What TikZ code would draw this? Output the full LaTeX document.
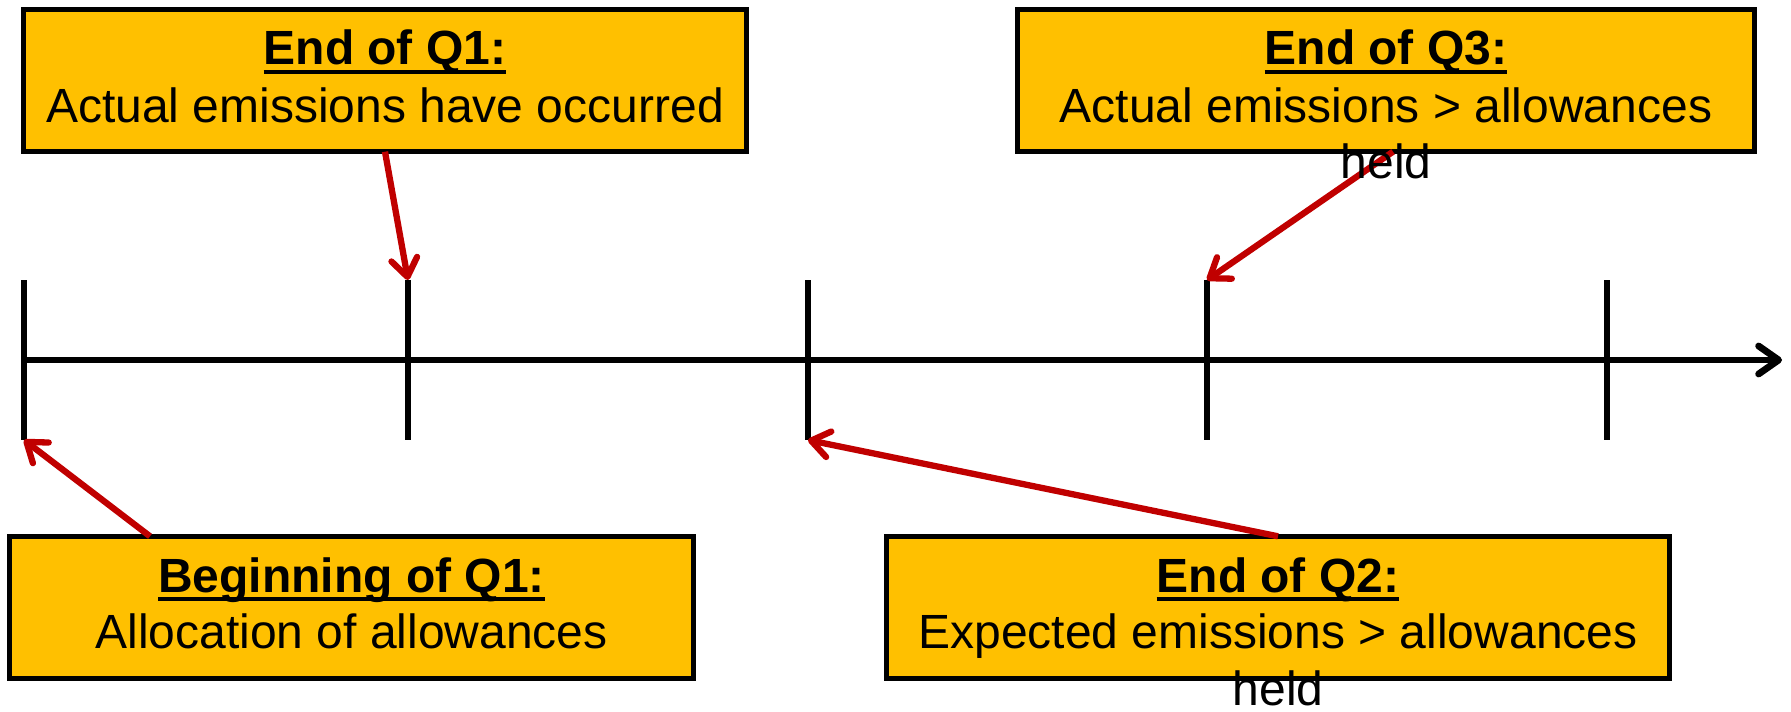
\documentclass[tikz,border=0pt]{standalone}
\usepackage{fontspec}
\setmainfont{Liberation Sans}
\usetikzlibrary{arrows.meta}
\definecolor{boxgold}{RGB}{255,192,0}
\definecolor{arrowred}{RGB}{192,0,0}
\newcommand{\myul}[1]{\setbox0\hbox{#1}\rlap{\rule[-9pt]{\wd0}{4pt}}\box0}
\begin{document}
\begin{tikzpicture}[x=1pt,y=-1pt,
  notebox/.style={draw=black, line width=4.6pt, fill=boxgold, inner sep=0pt, outer sep=0pt},
  ttl/.style={anchor=base, inner sep=0pt, font=\fontsize{48}{57}\selectfont\bfseries},
  body/.style={anchor=base, inner sep=0pt, font=\fontsize{48}{57}\selectfont},
  tickline/.style={draw=black, line width=6pt},
  axisline/.style={draw=black, line width=6.8pt, -{Straight Barb[length=20pt,width=28pt,round]}},
  callout/.style={draw=arrowred, line width=6.3pt, -{Straight Barb[length=18pt,width=26pt,round]}}
]
\useasboundingbox (0,0) rectangle (1791,712);

% boxes
\node[notebox, minimum width=723.4pt, minimum height=142.4pt] (q1) at (385,80.5) {};
\node[notebox, minimum width=737.4pt, minimum height=142.4pt] (q3) at (1386,80.5) {};
\node[notebox, minimum width=684.4pt, minimum height=142.4pt] (b1) at (351.5,607.5) {};
\node[notebox, minimum width=783.4pt, minimum height=142.4pt] (q2) at (1278,607.5) {};

% timeline coordinates
\coordinate (t1top) at (24,280);  \coordinate (t1bot) at (24,440);
\coordinate (t2top) at (408,280); \coordinate (t2bot) at (408,440);
\coordinate (t3top) at (808,280); \coordinate (t3bot) at (808,440);
\coordinate (t4top) at (1207,280); \coordinate (t4bot) at (1207,440);
\coordinate (t5top) at (1607,280); \coordinate (t5bot) at (1607,440);
\coordinate (axstart) at (24,360);
\coordinate (axend) at (1782,360);

\draw[axisline] (axstart) -- (axend);
\draw[tickline] (t1top) -- (t1bot);
\draw[tickline] (t2top) -- (t2bot);
\draw[tickline] (t3top) -- (t3bot);
\draw[tickline] (t4top) -- (t4bot);
\draw[tickline] (t5top) -- (t5bot);

% callout arrows
\draw[callout] (q1.south) -- (t2top);
\draw[callout] ([xshift=7pt]q3.south) -- (t4top);
\draw[callout] ([xshift=-201.5pt]b1.north) -- (t1bot);
\draw[callout] (q2.north) -- (t3bot);

% texts
\node[ttl] (q1t) at (385,64.5) {\myul{End of Q1:}};
\node[body] (q1b) at (385,122) {Actual emissions have occurred};

\node[ttl] (q3t) at (1386,64.5) {\myul{End of Q3:}};
\node[body] (q3b) at (1386,122) {Actual emissions > allowances};
\node[body] (q3c) at (1386,178) {held};

\node[ttl] (b1t) at (351.5,592) {\myul{Beginning of Q1:}};
\node[body] (b1b) at (351.5,648.5) {Allocation of allowances};

\node[ttl] (q2t) at (1278,592) {\myul{End of Q2:}};
\node[body] (q2b) at (1278,648.5) {Expected emissions > allowances};
\node[body] (q2c) at (1278,705) {held};
\end{tikzpicture}
\end{document}
